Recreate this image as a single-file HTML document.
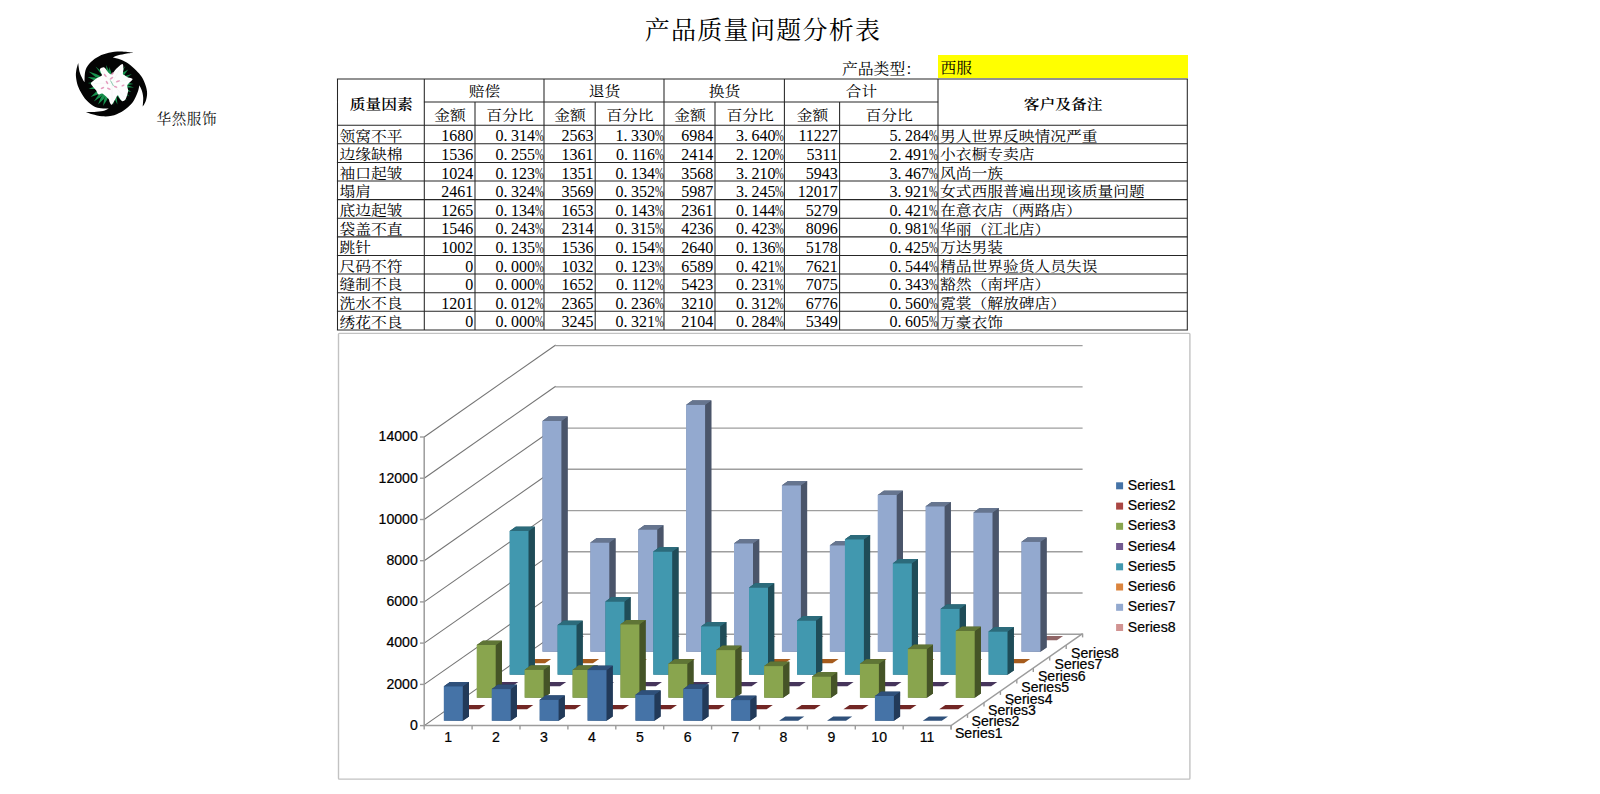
<!DOCTYPE html>
<html lang="zh-CN">
<head>
<meta charset="utf-8">
<title>产品质量问题分析表</title>
<style>
html,body{margin:0;padding:0;background:#fff;}
body{width:1600px;height:794px;position:relative;overflow:hidden;font-family:"Liberation Serif","Noto Serif CJK SC",serif;color:#000;}
.abs{position:absolute;}
.title{left:562.4px;top:10.8px;width:400px;text-align:center;font-size:25px;line-height:40px;font-weight:400;white-space:nowrap;letter-spacing:1.3px;text-indent:1.3px;}
.brand{left:156.6px;top:109.4px;font-size:14.6px;letter-spacing:0.5px;line-height:20px;white-space:nowrap;color:#111;}
.ptype{transform:scaleY(.93);transform-origin:50% 50%;left:790px;top:57.3px;width:131px;text-align:right;font-size:15.8px;line-height:23px;white-space:nowrap;}
.yellow{left:938px;top:55.2px;width:249.5px;height:23.3px;background:#ffff00;font-size:15.8px;line-height:26.4px;}
.yellow span{display:inline-block;transform:scaleY(.93);transform-origin:50% 50%;padding-left:2.5px;}
.c{position:absolute;transform:scaleY(.89);transform-origin:50% 50%;font-size:15.75px;line-height:18.6px;white-space:nowrap;overflow:visible;}
.c.l{text-align:left;}
.c.r{text-align:right;margin-left:0.9px;font-size:16px;transform:scaleY(1.07);}
.c.r.i{margin-left:-0.6px;}
.c.m{text-align:center;}
.c.b{font-weight:600;}
.d{display:inline-block;width:7.6px;text-align:left;}
.p{display:inline-block;width:8.6px;transform:scaleX(.66);transform-origin:0 50%;}
svg text{font-family:"Liberation Sans",sans-serif;}
</style>
</head>
<body>
<svg class="abs" style="left:60px;top:40px" width="120" height="90" viewBox="60 40 120 90">
<path d="M 84.50,82.30 C 84.67,80.28 84.43,73.58 85.50,70.20 C 86.57,66.82 88.63,64.33 90.90,62.00 C 93.17,59.67 96.12,57.73 99.10,56.20 C 102.08,54.67 105.25,53.57 108.80,52.80 C 112.35,52.03 116.28,51.60 120.40,51.60 C 124.52,51.60 131.32,52.60 133.50,52.80 C 131.97,52.98 127.12,53.42 124.30,53.90 C 121.48,54.38 118.53,55.08 116.60,55.70 C 114.67,56.32 113.35,57.28 112.70,57.60 C 113.98,57.92 117.82,58.53 120.40,59.50 C 122.98,60.47 125.60,61.62 128.20,63.40 C 130.80,65.18 133.73,67.93 136.00,70.20 C 138.27,72.47 140.18,74.42 141.80,77.00 C 143.42,79.58 144.82,82.95 145.70,85.70 C 146.58,88.45 147.10,90.90 147.10,93.50 C 147.10,96.10 146.43,99.12 145.70,101.30 C 144.97,103.48 143.20,105.72 142.70,106.60 C 142.78,105.07 143.35,100.07 143.20,97.40 C 143.05,94.73 142.43,92.62 141.80,90.60 C 141.17,88.58 139.80,86.18 139.40,85.30 C 139.15,86.35 138.80,89.10 137.90,91.60 C 137.00,94.10 135.62,97.72 134.00,100.30 C 132.38,102.88 130.30,105.17 128.20,107.10 C 126.10,109.03 124.15,110.45 121.40,111.90 C 118.65,113.35 114.93,115.07 111.70,115.80 C 108.47,116.53 105.23,116.55 102.00,116.30 C 98.77,116.05 94.97,115.03 92.30,114.30 C 89.63,113.57 87.05,112.30 86.00,111.90 C 87.37,111.90 91.37,112.05 94.20,111.90 C 97.03,111.75 100.57,111.57 103.00,111.00 C 105.43,110.43 107.83,108.92 108.80,108.50 C 107.50,108.47 103.43,108.62 101.00,108.30 C 98.57,107.98 96.62,107.93 94.20,106.60 C 91.78,105.27 88.60,102.48 86.50,100.30 C 84.40,98.12 83.05,95.93 81.60,93.50 C 80.15,91.07 78.73,88.45 77.80,85.70 C 76.87,82.95 76.25,79.58 76.00,77.00 C 75.75,74.42 75.93,72.55 76.30,70.20 C 76.67,67.85 77.88,64.12 78.20,62.90 C 78.45,64.45 78.97,69.53 79.70,72.20 C 80.43,74.87 81.80,77.22 82.60,78.90 C 83.40,80.58 84.18,81.73 84.50,82.30 Z" fill="#040404"/>
<g fill="#17924d">
<path d="M 105.5,78.7 L 96.2,74.0 L 88.6,71.5 L 94.9,76.4 L 104.0,81.5 Z"/>
<path d="M 104.9,80.1 L 95.2,77.6 L 87.6,77.0 L 94.4,80.5 L 104.0,83.4 Z"/>
<path d="M 104.6,82.1 L 95.0,81.9 L 87.8,83.0 L 94.9,84.5 L 104.5,85.0 Z"/>
<path d="M 104.4,83.7 L 95.2,86.0 L 88.6,89.0 L 95.9,88.9 L 105.1,87.0 Z"/>
<path d="M 104.4,86.2 L 96.1,91.7 L 90.6,97.0 L 97.8,94.4 L 106.3,89.3 Z"/>
<path d="M 105.2,88.0 L 98.2,95.2 L 93.8,101.5 L 100.2,97.2 L 107.4,90.2 Z"/>
<path d="M 106.1,89.0 L 100.8,97.5 L 98.0,104.6 L 103.5,99.3 L 109.1,91.0 Z"/>
<path d="M 107.6,89.9 L 104.3,98.8 L 103.0,106.0 L 106.9,99.9 L 110.5,91.0 Z"/>
<path d="M 117.7,80.7 L 124.2,74.9 L 128.2,69.5 L 122.3,72.7 L 115.6,78.3 Z"/>
<path d="M 118.3,82.0 L 126.3,78.0 L 131.8,74.0 L 125.2,75.9 L 117.2,79.7 Z"/>
<path d="M 118.2,85.3 L 126.9,85.2 L 133.4,84.0 L 126.9,82.6 L 118.2,82.4 Z"/>
<path d="M 118.2,86.2 L 127.1,87.6 L 134.0,87.5 L 127.5,85.2 L 118.6,83.6 Z"/>
<path d="M 117.0,87.7 L 125.0,90.8 L 131.4,92.0 L 126.0,88.2 L 118.2,84.8 Z"/>
<path d="M 116.2,88.8 L 123.3,93.7 L 129.4,96.4 L 124.8,91.6 L 117.8,86.4 Z"/>
<path d="M 115.3,89.7 L 121.4,96.2 L 126.8,100.4 L 123.1,94.6 L 117.2,87.9 Z"/>
<path d="M 111.1,77.8 L 108.7,70.3 L 106.0,65.0 L 106.7,71.0 L 108.8,78.5 Z"/>
<path d="M 112.2,78.6 L 111.1,71.9 L 109.3,67.0 L 109.0,72.2 L 109.8,78.9 Z"/>
<path d="M 112.1,90.4 L 114.5,98.7 L 117.4,104.6 L 116.8,98.0 L 114.7,89.7 Z"/>
<path d="M 113.5,89.6 L 117.6,96.4 L 121.6,101.0 L 119.7,95.2 L 115.8,88.3 Z"/>
<path d="M 111.3,90.3 L 112.3,98.7 L 114.0,105.0 L 114.3,98.5 L 113.5,90.0 Z"/>
<path d="M 107.5,78.0 L 101.0,71.1 L 95.5,66.5 L 99.7,72.3 L 106.1,79.3 Z"/>
<path d="M 116.6,79.0 L 122.0,71.9 L 125.5,66.0 L 120.7,70.8 L 115.1,77.9 Z"/>
</g>
<path d="M 111.70,74.10 C 112.98,73.33 114.72,70.20 116.50,68.50 C 118.28,66.80 121.25,63.82 122.40,63.90 C 123.55,63.98 123.32,67.30 123.40,69.00 C 123.48,70.70 122.75,73.08 122.90,74.10 C 123.05,75.12 123.45,74.53 124.30,75.10 C 125.15,75.67 126.62,76.87 128.00,77.50 C 129.38,78.13 132.35,78.07 132.60,78.90 C 132.85,79.73 130.40,81.37 129.50,82.50 C 128.60,83.63 127.42,84.35 127.20,85.70 C 126.98,87.05 128.23,88.97 128.20,90.60 C 128.17,92.23 127.48,94.00 127.00,95.50 C 126.52,97.00 126.07,98.63 125.30,99.60 C 124.53,100.57 123.37,101.57 122.40,101.30 C 121.43,101.03 120.32,98.98 119.50,98.00 C 118.68,97.02 118.33,94.98 117.50,95.40 C 116.67,95.82 115.47,98.95 114.50,100.50 C 113.53,102.05 112.52,104.45 111.70,104.70 C 110.88,104.95 110.08,102.90 109.60,102.00 C 109.12,101.10 109.48,100.30 108.80,99.30 C 108.12,98.30 106.63,96.97 105.50,96.00 C 104.37,95.03 103.18,93.75 102.00,93.50 C 100.82,93.25 99.37,94.98 98.40,94.50 C 97.43,94.02 97.07,91.85 96.20,90.60 C 95.33,89.35 94.08,88.22 93.20,87.00 C 92.32,85.78 90.77,84.43 90.90,83.30 C 91.03,82.17 92.95,81.08 94.00,80.20 C 95.05,79.32 96.20,78.57 97.20,78.00 C 98.20,77.43 99.20,77.28 100.00,76.80 C 100.80,76.32 101.90,75.90 102.00,75.10 C 102.10,74.30 100.92,73.05 100.60,72.00 C 100.28,70.95 99.55,69.58 100.10,68.80 C 100.65,68.02 102.82,67.07 103.90,67.30 C 104.98,67.53 105.78,69.23 106.60,70.20 C 107.42,71.17 107.95,72.45 108.80,73.10 C 109.65,73.75 110.42,74.87 111.70,74.10 Z" fill="#fdfdfd"/>
<path d="M 112,83 L 121.5,66 M 112,83 L 130,79.5 M 112,83 L 112,102 M 112,83 L 94,83.5 M 112,83 L 124,97 M 112,83 L 102,71" stroke="#eef2ee" stroke-width="0.45" fill="none"/>
<ellipse transform="translate(105.2 75.5) rotate(50)" rx="2.0" ry="0.85" fill="#e08cb4" fill-opacity="0.85"/>
<ellipse transform="translate(111.5 78.2) rotate(-35)" rx="2.1" ry="0.85" fill="#e08cb4" fill-opacity="0.85"/>
<ellipse transform="translate(118 81.3) rotate(-20)" rx="2.2" ry="0.85" fill="#e08cb4" fill-opacity="0.85"/>
<ellipse transform="translate(107 82.5) rotate(55)" rx="1.9" ry="0.85" fill="#e08cb4" fill-opacity="0.85"/>
<ellipse transform="translate(115.6 86.8) rotate(20)" rx="1.9" ry="0.85" fill="#e08cb4" fill-opacity="0.85"/>
<ellipse transform="translate(123 85.5) rotate(-25)" rx="1.7" ry="0.85" fill="#e08cb4" fill-opacity="0.85"/>
<ellipse transform="translate(102.5 88) rotate(-25)" rx="1.9" ry="0.85" fill="#e08cb4" fill-opacity="0.85"/>
<ellipse transform="translate(108.8 88.8) rotate(25)" rx="2.0" ry="0.85" fill="#e08cb4" fill-opacity="0.85"/>
<ellipse transform="translate(112.5 73.5) rotate(-40)" rx="1.4" ry="0.85" fill="#e08cb4" fill-opacity="0.85"/>
<path d="M 110.5,80.5 L 113.5,86" stroke="#5fb592" stroke-width="0.7" fill="none"/>
</svg>
<div class="abs brand">华然服饰</div>
<div class="abs title">产品质量问题分析表</div>
<div class="abs ptype">产品类型：</div>
<div class="abs yellow"><span>西服</span></div>
<svg class="abs" style="left:330px;top:70px" width="870" height="265" viewBox="330 70 870 265"><path d="M336.9,79H1187.9 M423.7,102H938.6 M336.9,125.2H1187.9 M336.9,143.81H1187.9 M336.9,162.42H1187.9 M336.9,181.03H1187.9 M336.9,199.64H1187.9 M336.9,218.25H1187.9 M336.9,236.85H1187.9 M336.9,255.46H1187.9 M336.9,274.07H1187.9 M336.9,292.68H1187.9 M336.9,311.29H1187.9 M336.9,329.9H1187.9 M337.5,79V329.9 M424.3,79V329.9 M475,102V329.9 M544,79V329.9 M595.2,102V329.9 M664,79V329.9 M715,102V329.9 M784.4,79V329.9 M839.6,102V329.9 M938,79V329.9 M1187.3,79V329.9" fill="none" stroke="#262626" stroke-width="1.05"/></svg>
<div class="abs" style="left:0;top:0;width:0;height:0">
<div class="c m b" style="left:339.5px;top:82.4px;width:83.6px;height:46.2px;line-height:46.2px">质量因素</div>
<div class="c m b" style="left:940px;top:82.4px;width:246.1px;height:46.2px;line-height:46.2px">客户及备注</div>
<div class="c m" style="left:426.3px;top:79.9px;width:116.5px;height:23px;line-height:23px">赔偿</div>
<div class="c m" style="left:426.3px;top:104px;width:47.5px;height:23.2px;line-height:23.2px">金额</div>
<div class="c m" style="left:477px;top:104px;width:65.8px;height:23.2px;line-height:23.2px">百分比</div>
<div class="c m" style="left:546px;top:79.9px;width:116.8px;height:23px;line-height:23px">退货</div>
<div class="c m" style="left:546px;top:104px;width:48px;height:23.2px;line-height:23.2px">金额</div>
<div class="c m" style="left:597.2px;top:104px;width:65.6px;height:23.2px;line-height:23.2px">百分比</div>
<div class="c m" style="left:666px;top:79.9px;width:117.2px;height:23px;line-height:23px">换货</div>
<div class="c m" style="left:666px;top:104px;width:47.8px;height:23.2px;line-height:23.2px">金额</div>
<div class="c m" style="left:717px;top:104px;width:66.2px;height:23.2px;line-height:23.2px">百分比</div>
<div class="c m" style="left:786.4px;top:79.9px;width:150.4px;height:23px;line-height:23px">合计</div>
<div class="c m" style="left:786.4px;top:104px;width:52px;height:23.2px;line-height:23.2px">金额</div>
<div class="c m" style="left:841.6px;top:104px;width:95.2px;height:23.2px;line-height:23.2px">百分比</div>
<div class="c l" style="left:339.5px;top:127.5px;width:83.6px;height:18.61px;line-height:18.61px">领窝不平</div>
<div class="c r i" style="left:426.3px;top:127.4px;width:47.5px;height:18.61px;line-height:18.61px">1680</div>
<div class="c r" style="left:477px;top:127.4px;width:65.8px;height:18.61px;line-height:18.61px">0<span class="d">.</span>314<span class="p">%</span></div>
<div class="c r i" style="left:546px;top:127.4px;width:48px;height:18.61px;line-height:18.61px">2563</div>
<div class="c r" style="left:597.2px;top:127.4px;width:65.6px;height:18.61px;line-height:18.61px">1<span class="d">.</span>330<span class="p">%</span></div>
<div class="c r i" style="left:666px;top:127.4px;width:47.8px;height:18.61px;line-height:18.61px">6984</div>
<div class="c r" style="left:717px;top:127.4px;width:66.2px;height:18.61px;line-height:18.61px">3<span class="d">.</span>640<span class="p">%</span></div>
<div class="c r i" style="left:786.4px;top:127.4px;width:52px;height:18.61px;line-height:18.61px">11227</div>
<div class="c r" style="left:841.6px;top:127.4px;width:95.2px;height:18.61px;line-height:18.61px">5<span class="d">.</span>284<span class="p">%</span></div>
<div class="c l" style="left:940px;top:127.5px;width:246.1px;height:18.61px;line-height:18.61px">男人世界反映情况严重</div>
<div class="c l" style="left:339.5px;top:146.11px;width:83.6px;height:18.61px;line-height:18.61px">边缘缺棉</div>
<div class="c r i" style="left:426.3px;top:146.01px;width:47.5px;height:18.61px;line-height:18.61px">1536</div>
<div class="c r" style="left:477px;top:146.01px;width:65.8px;height:18.61px;line-height:18.61px">0<span class="d">.</span>255<span class="p">%</span></div>
<div class="c r i" style="left:546px;top:146.01px;width:48px;height:18.61px;line-height:18.61px">1361</div>
<div class="c r" style="left:597.2px;top:146.01px;width:65.6px;height:18.61px;line-height:18.61px">0<span class="d">.</span>116<span class="p">%</span></div>
<div class="c r i" style="left:666px;top:146.01px;width:47.8px;height:18.61px;line-height:18.61px">2414</div>
<div class="c r" style="left:717px;top:146.01px;width:66.2px;height:18.61px;line-height:18.61px">2<span class="d">.</span>120<span class="p">%</span></div>
<div class="c r i" style="left:786.4px;top:146.01px;width:52px;height:18.61px;line-height:18.61px">5311</div>
<div class="c r" style="left:841.6px;top:146.01px;width:95.2px;height:18.61px;line-height:18.61px">2<span class="d">.</span>491<span class="p">%</span></div>
<div class="c l" style="left:940px;top:146.11px;width:246.1px;height:18.61px;line-height:18.61px">小衣橱专卖店</div>
<div class="c l" style="left:339.5px;top:164.72px;width:83.6px;height:18.61px;line-height:18.61px">袖口起皱</div>
<div class="c r i" style="left:426.3px;top:164.62px;width:47.5px;height:18.61px;line-height:18.61px">1024</div>
<div class="c r" style="left:477px;top:164.62px;width:65.8px;height:18.61px;line-height:18.61px">0<span class="d">.</span>123<span class="p">%</span></div>
<div class="c r i" style="left:546px;top:164.62px;width:48px;height:18.61px;line-height:18.61px">1351</div>
<div class="c r" style="left:597.2px;top:164.62px;width:65.6px;height:18.61px;line-height:18.61px">0<span class="d">.</span>134<span class="p">%</span></div>
<div class="c r i" style="left:666px;top:164.62px;width:47.8px;height:18.61px;line-height:18.61px">3568</div>
<div class="c r" style="left:717px;top:164.62px;width:66.2px;height:18.61px;line-height:18.61px">3<span class="d">.</span>210<span class="p">%</span></div>
<div class="c r i" style="left:786.4px;top:164.62px;width:52px;height:18.61px;line-height:18.61px">5943</div>
<div class="c r" style="left:841.6px;top:164.62px;width:95.2px;height:18.61px;line-height:18.61px">3<span class="d">.</span>467<span class="p">%</span></div>
<div class="c l" style="left:940px;top:164.72px;width:246.1px;height:18.61px;line-height:18.61px">风尚一族</div>
<div class="c l" style="left:339.5px;top:183.33px;width:83.6px;height:18.61px;line-height:18.61px">塌肩</div>
<div class="c r i" style="left:426.3px;top:183.23px;width:47.5px;height:18.61px;line-height:18.61px">2461</div>
<div class="c r" style="left:477px;top:183.23px;width:65.8px;height:18.61px;line-height:18.61px">0<span class="d">.</span>324<span class="p">%</span></div>
<div class="c r i" style="left:546px;top:183.23px;width:48px;height:18.61px;line-height:18.61px">3569</div>
<div class="c r" style="left:597.2px;top:183.23px;width:65.6px;height:18.61px;line-height:18.61px">0<span class="d">.</span>352<span class="p">%</span></div>
<div class="c r i" style="left:666px;top:183.23px;width:47.8px;height:18.61px;line-height:18.61px">5987</div>
<div class="c r" style="left:717px;top:183.23px;width:66.2px;height:18.61px;line-height:18.61px">3<span class="d">.</span>245<span class="p">%</span></div>
<div class="c r i" style="left:786.4px;top:183.23px;width:52px;height:18.61px;line-height:18.61px">12017</div>
<div class="c r" style="left:841.6px;top:183.23px;width:95.2px;height:18.61px;line-height:18.61px">3<span class="d">.</span>921<span class="p">%</span></div>
<div class="c l" style="left:940px;top:183.33px;width:246.1px;height:18.61px;line-height:18.61px">女式西服普遍出现该质量问题</div>
<div class="c l" style="left:339.5px;top:201.94px;width:83.6px;height:18.61px;line-height:18.61px">底边起皱</div>
<div class="c r i" style="left:426.3px;top:201.84px;width:47.5px;height:18.61px;line-height:18.61px">1265</div>
<div class="c r" style="left:477px;top:201.84px;width:65.8px;height:18.61px;line-height:18.61px">0<span class="d">.</span>134<span class="p">%</span></div>
<div class="c r i" style="left:546px;top:201.84px;width:48px;height:18.61px;line-height:18.61px">1653</div>
<div class="c r" style="left:597.2px;top:201.84px;width:65.6px;height:18.61px;line-height:18.61px">0<span class="d">.</span>143<span class="p">%</span></div>
<div class="c r i" style="left:666px;top:201.84px;width:47.8px;height:18.61px;line-height:18.61px">2361</div>
<div class="c r" style="left:717px;top:201.84px;width:66.2px;height:18.61px;line-height:18.61px">0<span class="d">.</span>144<span class="p">%</span></div>
<div class="c r i" style="left:786.4px;top:201.84px;width:52px;height:18.61px;line-height:18.61px">5279</div>
<div class="c r" style="left:841.6px;top:201.84px;width:95.2px;height:18.61px;line-height:18.61px">0<span class="d">.</span>421<span class="p">%</span></div>
<div class="c l" style="left:940px;top:201.94px;width:246.1px;height:18.61px;line-height:18.61px">在意衣店（两路店）</div>
<div class="c l" style="left:339.5px;top:220.55px;width:83.6px;height:18.61px;line-height:18.61px">袋盖不直</div>
<div class="c r i" style="left:426.3px;top:220.45px;width:47.5px;height:18.61px;line-height:18.61px">1546</div>
<div class="c r" style="left:477px;top:220.45px;width:65.8px;height:18.61px;line-height:18.61px">0<span class="d">.</span>243<span class="p">%</span></div>
<div class="c r i" style="left:546px;top:220.45px;width:48px;height:18.61px;line-height:18.61px">2314</div>
<div class="c r" style="left:597.2px;top:220.45px;width:65.6px;height:18.61px;line-height:18.61px">0<span class="d">.</span>315<span class="p">%</span></div>
<div class="c r i" style="left:666px;top:220.45px;width:47.8px;height:18.61px;line-height:18.61px">4236</div>
<div class="c r" style="left:717px;top:220.45px;width:66.2px;height:18.61px;line-height:18.61px">0<span class="d">.</span>423<span class="p">%</span></div>
<div class="c r i" style="left:786.4px;top:220.45px;width:52px;height:18.61px;line-height:18.61px">8096</div>
<div class="c r" style="left:841.6px;top:220.45px;width:95.2px;height:18.61px;line-height:18.61px">0<span class="d">.</span>981<span class="p">%</span></div>
<div class="c l" style="left:940px;top:220.55px;width:246.1px;height:18.61px;line-height:18.61px">华丽（江北店）</div>
<div class="c l" style="left:339.5px;top:239.15px;width:83.6px;height:18.61px;line-height:18.61px">跳针</div>
<div class="c r i" style="left:426.3px;top:239.05px;width:47.5px;height:18.61px;line-height:18.61px">1002</div>
<div class="c r" style="left:477px;top:239.05px;width:65.8px;height:18.61px;line-height:18.61px">0<span class="d">.</span>135<span class="p">%</span></div>
<div class="c r i" style="left:546px;top:239.05px;width:48px;height:18.61px;line-height:18.61px">1536</div>
<div class="c r" style="left:597.2px;top:239.05px;width:65.6px;height:18.61px;line-height:18.61px">0<span class="d">.</span>154<span class="p">%</span></div>
<div class="c r i" style="left:666px;top:239.05px;width:47.8px;height:18.61px;line-height:18.61px">2640</div>
<div class="c r" style="left:717px;top:239.05px;width:66.2px;height:18.61px;line-height:18.61px">0<span class="d">.</span>136<span class="p">%</span></div>
<div class="c r i" style="left:786.4px;top:239.05px;width:52px;height:18.61px;line-height:18.61px">5178</div>
<div class="c r" style="left:841.6px;top:239.05px;width:95.2px;height:18.61px;line-height:18.61px">0<span class="d">.</span>425<span class="p">%</span></div>
<div class="c l" style="left:940px;top:239.15px;width:246.1px;height:18.61px;line-height:18.61px">万达男装</div>
<div class="c l" style="left:339.5px;top:257.76px;width:83.6px;height:18.61px;line-height:18.61px">尺码不符</div>
<div class="c r i" style="left:426.3px;top:257.66px;width:47.5px;height:18.61px;line-height:18.61px">0</div>
<div class="c r" style="left:477px;top:257.66px;width:65.8px;height:18.61px;line-height:18.61px">0<span class="d">.</span>000<span class="p">%</span></div>
<div class="c r i" style="left:546px;top:257.66px;width:48px;height:18.61px;line-height:18.61px">1032</div>
<div class="c r" style="left:597.2px;top:257.66px;width:65.6px;height:18.61px;line-height:18.61px">0<span class="d">.</span>123<span class="p">%</span></div>
<div class="c r i" style="left:666px;top:257.66px;width:47.8px;height:18.61px;line-height:18.61px">6589</div>
<div class="c r" style="left:717px;top:257.66px;width:66.2px;height:18.61px;line-height:18.61px">0<span class="d">.</span>421<span class="p">%</span></div>
<div class="c r i" style="left:786.4px;top:257.66px;width:52px;height:18.61px;line-height:18.61px">7621</div>
<div class="c r" style="left:841.6px;top:257.66px;width:95.2px;height:18.61px;line-height:18.61px">0<span class="d">.</span>544<span class="p">%</span></div>
<div class="c l" style="left:940px;top:257.76px;width:246.1px;height:18.61px;line-height:18.61px">精品世界验货人员失误</div>
<div class="c l" style="left:339.5px;top:276.37px;width:83.6px;height:18.61px;line-height:18.61px">缝制不良</div>
<div class="c r i" style="left:426.3px;top:276.27px;width:47.5px;height:18.61px;line-height:18.61px">0</div>
<div class="c r" style="left:477px;top:276.27px;width:65.8px;height:18.61px;line-height:18.61px">0<span class="d">.</span>000<span class="p">%</span></div>
<div class="c r i" style="left:546px;top:276.27px;width:48px;height:18.61px;line-height:18.61px">1652</div>
<div class="c r" style="left:597.2px;top:276.27px;width:65.6px;height:18.61px;line-height:18.61px">0<span class="d">.</span>112<span class="p">%</span></div>
<div class="c r i" style="left:666px;top:276.27px;width:47.8px;height:18.61px;line-height:18.61px">5423</div>
<div class="c r" style="left:717px;top:276.27px;width:66.2px;height:18.61px;line-height:18.61px">0<span class="d">.</span>231<span class="p">%</span></div>
<div class="c r i" style="left:786.4px;top:276.27px;width:52px;height:18.61px;line-height:18.61px">7075</div>
<div class="c r" style="left:841.6px;top:276.27px;width:95.2px;height:18.61px;line-height:18.61px">0<span class="d">.</span>343<span class="p">%</span></div>
<div class="c l" style="left:940px;top:276.37px;width:246.1px;height:18.61px;line-height:18.61px">豁然（南坪店）</div>
<div class="c l" style="left:339.5px;top:294.98px;width:83.6px;height:18.61px;line-height:18.61px">洗水不良</div>
<div class="c r i" style="left:426.3px;top:294.88px;width:47.5px;height:18.61px;line-height:18.61px">1201</div>
<div class="c r" style="left:477px;top:294.88px;width:65.8px;height:18.61px;line-height:18.61px">0<span class="d">.</span>012<span class="p">%</span></div>
<div class="c r i" style="left:546px;top:294.88px;width:48px;height:18.61px;line-height:18.61px">2365</div>
<div class="c r" style="left:597.2px;top:294.88px;width:65.6px;height:18.61px;line-height:18.61px">0<span class="d">.</span>236<span class="p">%</span></div>
<div class="c r i" style="left:666px;top:294.88px;width:47.8px;height:18.61px;line-height:18.61px">3210</div>
<div class="c r" style="left:717px;top:294.88px;width:66.2px;height:18.61px;line-height:18.61px">0<span class="d">.</span>312<span class="p">%</span></div>
<div class="c r i" style="left:786.4px;top:294.88px;width:52px;height:18.61px;line-height:18.61px">6776</div>
<div class="c r" style="left:841.6px;top:294.88px;width:95.2px;height:18.61px;line-height:18.61px">0<span class="d">.</span>560<span class="p">%</span></div>
<div class="c l" style="left:940px;top:294.98px;width:246.1px;height:18.61px;line-height:18.61px">霓裳（解放碑店）</div>
<div class="c l" style="left:339.5px;top:313.59px;width:83.6px;height:18.61px;line-height:18.61px">绣花不良</div>
<div class="c r i" style="left:426.3px;top:313.49px;width:47.5px;height:18.61px;line-height:18.61px">0</div>
<div class="c r" style="left:477px;top:313.49px;width:65.8px;height:18.61px;line-height:18.61px">0<span class="d">.</span>000<span class="p">%</span></div>
<div class="c r i" style="left:546px;top:313.49px;width:48px;height:18.61px;line-height:18.61px">3245</div>
<div class="c r" style="left:597.2px;top:313.49px;width:65.6px;height:18.61px;line-height:18.61px">0<span class="d">.</span>321<span class="p">%</span></div>
<div class="c r i" style="left:666px;top:313.49px;width:47.8px;height:18.61px;line-height:18.61px">2104</div>
<div class="c r" style="left:717px;top:313.49px;width:66.2px;height:18.61px;line-height:18.61px">0<span class="d">.</span>284<span class="p">%</span></div>
<div class="c r i" style="left:786.4px;top:313.49px;width:52px;height:18.61px;line-height:18.61px">5349</div>
<div class="c r" style="left:841.6px;top:313.49px;width:95.2px;height:18.61px;line-height:18.61px">0<span class="d">.</span>605<span class="p">%</span></div>
<div class="c l" style="left:940px;top:313.59px;width:246.1px;height:18.61px;line-height:18.61px">万豪衣饰</div>
</div>
<svg class="abs" style="left:334px;top:330px" width="862" height="456" viewBox="334 330 862 456">
<rect x="338.5" y="333.4" width="851.4" height="445.7" rx="0.8" fill="#fff" stroke="#c2c2c2" stroke-width="1.4"/>
<g><path d="M 424.2,725.6 L 555.7,633.6" fill="none" stroke="#747474" stroke-width="1.05"/>
<path d="M 555.3,634.2 L 1082.6,634.2" fill="none" stroke="#9e9e9e" stroke-width="1.4"/>
<path d="M 424.2,684.4 L 555.7,592.4" fill="none" stroke="#747474" stroke-width="1.05"/>
<path d="M 555.3,593.0 L 1082.6,593.0" fill="none" stroke="#9e9e9e" stroke-width="1.4"/>
<path d="M 424.2,643.1 L 555.7,551.1" fill="none" stroke="#747474" stroke-width="1.05"/>
<path d="M 555.3,551.8 L 1082.6,551.8" fill="none" stroke="#9e9e9e" stroke-width="1.4"/>
<path d="M 424.2,601.9 L 555.7,509.9" fill="none" stroke="#747474" stroke-width="1.05"/>
<path d="M 555.3,510.6 L 1082.6,510.6" fill="none" stroke="#9e9e9e" stroke-width="1.4"/>
<path d="M 424.2,560.7 L 555.7,468.7" fill="none" stroke="#747474" stroke-width="1.05"/>
<path d="M 555.3,469.3 L 1082.6,469.3" fill="none" stroke="#9e9e9e" stroke-width="1.4"/>
<path d="M 424.2,519.5 L 555.7,427.5" fill="none" stroke="#747474" stroke-width="1.05"/>
<path d="M 555.3,428.1 L 1082.6,428.1" fill="none" stroke="#9e9e9e" stroke-width="1.4"/>
<path d="M 424.2,478.2 L 555.7,386.2" fill="none" stroke="#747474" stroke-width="1.05"/>
<path d="M 555.3,386.9 L 1082.6,386.9" fill="none" stroke="#9e9e9e" stroke-width="1.4"/>
<path d="M 424.2,437.0 L 555.7,345.0" fill="none" stroke="#747474" stroke-width="1.05"/>
<path d="M 555.3,345.6 L 1082.6,345.6" fill="none" stroke="#9e9e9e" stroke-width="1.4"/>
<path d="M 424.2,437.0 L 424.2,725.6 L 951.1,725.6 L 1082.6,633.6" fill="none" stroke="#9c9c9c" stroke-width="1.5"/>
<path d="M 420.0,725.6 L 424.2,725.6" stroke="#9c9c9c" stroke-width="1.4"/>
<path d="M 420.0,684.4 L 424.2,684.4" stroke="#9c9c9c" stroke-width="1.4"/>
<path d="M 420.0,643.1 L 424.2,643.1" stroke="#9c9c9c" stroke-width="1.4"/>
<path d="M 420.0,601.9 L 424.2,601.9" stroke="#9c9c9c" stroke-width="1.4"/>
<path d="M 420.0,560.7 L 424.2,560.7" stroke="#9c9c9c" stroke-width="1.4"/>
<path d="M 420.0,519.5 L 424.2,519.5" stroke="#9c9c9c" stroke-width="1.4"/>
<path d="M 420.0,478.2 L 424.2,478.2" stroke="#9c9c9c" stroke-width="1.4"/>
<path d="M 420.0,437.0 L 424.2,437.0" stroke="#9c9c9c" stroke-width="1.4"/>
<path d="M 424.2,725.6 L 424.2,729.6" stroke="#9c9c9c" stroke-width="1.4"/>
<path d="M 472.1,725.6 L 472.1,729.6" stroke="#9c9c9c" stroke-width="1.4"/>
<path d="M 520.0,725.6 L 520.0,729.6" stroke="#9c9c9c" stroke-width="1.4"/>
<path d="M 567.9,725.6 L 567.9,729.6" stroke="#9c9c9c" stroke-width="1.4"/>
<path d="M 615.8,725.6 L 615.8,729.6" stroke="#9c9c9c" stroke-width="1.4"/>
<path d="M 663.7,725.6 L 663.7,729.6" stroke="#9c9c9c" stroke-width="1.4"/>
<path d="M 711.6,725.6 L 711.6,729.6" stroke="#9c9c9c" stroke-width="1.4"/>
<path d="M 759.5,725.6 L 759.5,729.6" stroke="#9c9c9c" stroke-width="1.4"/>
<path d="M 807.4,725.6 L 807.4,729.6" stroke="#9c9c9c" stroke-width="1.4"/>
<path d="M 855.3,725.6 L 855.3,729.6" stroke="#9c9c9c" stroke-width="1.4"/>
<path d="M 903.2,725.6 L 903.2,729.6" stroke="#9c9c9c" stroke-width="1.4"/>
<path d="M 951.1,725.6 L 951.1,729.6" stroke="#9c9c9c" stroke-width="1.4"/>
<path d="M 951.1,725.6 L 951.1,729.4" stroke="#9c9c9c" stroke-width="1.4"/>
<path d="M 967.5,714.1 L 967.5,717.9" stroke="#9c9c9c" stroke-width="1.4"/>
<path d="M 984.0,702.6 L 984.0,706.4" stroke="#9c9c9c" stroke-width="1.4"/>
<path d="M 1000.4,691.1 L 1000.4,694.9" stroke="#9c9c9c" stroke-width="1.4"/>
<path d="M 1016.8,679.6 L 1016.8,683.4" stroke="#9c9c9c" stroke-width="1.4"/>
<path d="M 1033.3,668.1 L 1033.3,671.9" stroke="#9c9c9c" stroke-width="1.4"/>
<path d="M 1049.7,656.6 L 1049.7,660.4" stroke="#9c9c9c" stroke-width="1.4"/>
<path d="M 1066.2,645.1 L 1066.2,648.9" stroke="#9c9c9c" stroke-width="1.4"/>
<path d="M 1082.6,633.6 L 1082.6,637.4" stroke="#9c9c9c" stroke-width="1.4"/></g>
<g><path d="M 558.9,640.2 L 577.9,640.2 L 584.1,635.9 L 565.1,635.9 Z" fill="#8f6465"/>
<path d="M 606.8,640.2 L 625.8,640.2 L 632.0,635.9 L 613.0,635.9 Z" fill="#8f6465"/>
<path d="M 654.7,640.2 L 673.7,640.2 L 679.9,635.9 L 660.9,635.9 Z" fill="#8f6465"/>
<path d="M 702.6,640.2 L 721.6,640.2 L 727.8,635.9 L 708.8,635.9 Z" fill="#8f6465"/>
<path d="M 750.5,640.2 L 769.5,640.2 L 775.7,635.9 L 756.7,635.9 Z" fill="#8f6465"/>
<path d="M 798.4,640.2 L 817.4,640.2 L 823.6,635.9 L 804.6,635.9 Z" fill="#8f6465"/>
<path d="M 846.3,640.2 L 865.3,640.2 L 871.5,635.9 L 852.5,635.9 Z" fill="#8f6465"/>
<path d="M 894.2,640.2 L 913.2,640.2 L 919.4,635.9 L 900.4,635.9 Z" fill="#8f6465"/>
<path d="M 942.1,640.2 L 961.1,640.2 L 967.3,635.9 L 948.3,635.9 Z" fill="#8f6465"/>
<path d="M 990.0,640.2 L 1009.0,640.2 L 1015.2,635.9 L 996.2,635.9 Z" fill="#8f6465"/>
<path d="M 1037.9,640.2 L 1056.9,640.2 L 1063.1,635.9 L 1044.1,635.9 Z" fill="#8f6465"/>
<path d="M 542.7,651.4 L 561.4,651.7 L 567.6,647.4 L 567.6,416.6 L 548.6,416.6 L 542.7,420.9 Z" fill="#4a556a"/>
<path d="M 542.4,421.4 L 561.9,421.4 L 567.6,416.6 L 548.6,416.6 Z" fill="#66758f"/>
<path d="M 561.4,651.7 L 567.6,647.4 L 567.6,416.6 L 561.4,420.9 Z" fill="#4a556a"/>
<path d="M 542.4,651.7 L 561.4,651.7 L 561.4,420.9 L 542.4,420.9 Z" fill="#93a9cf"/>
<path d="M 542.4,420.9 L 561.4,420.9 L 567.6,416.6 L 548.6,416.6 Z" fill="#66758f"/>
<path d="M 590.6,651.4 L 609.3,651.7 L 615.5,647.4 L 615.5,538.2 L 596.5,538.2 L 590.6,542.5 Z" fill="#4a556a"/>
<path d="M 590.3,543.0 L 609.8,543.0 L 615.5,538.2 L 596.5,538.2 Z" fill="#66758f"/>
<path d="M 609.3,651.7 L 615.5,647.4 L 615.5,538.2 L 609.3,542.5 Z" fill="#4a556a"/>
<path d="M 590.3,651.7 L 609.3,651.7 L 609.3,542.5 L 590.3,542.5 Z" fill="#93a9cf"/>
<path d="M 590.3,542.5 L 609.3,542.5 L 615.5,538.2 L 596.5,538.2 Z" fill="#66758f"/>
<path d="M 638.5,651.4 L 657.2,651.7 L 663.4,647.4 L 663.4,525.2 L 644.4,525.2 L 638.5,529.5 Z" fill="#4a556a"/>
<path d="M 638.2,530.0 L 657.7,530.0 L 663.4,525.2 L 644.4,525.2 Z" fill="#66758f"/>
<path d="M 657.2,651.7 L 663.4,647.4 L 663.4,525.2 L 657.2,529.5 Z" fill="#4a556a"/>
<path d="M 638.2,651.7 L 657.2,651.7 L 657.2,529.5 L 638.2,529.5 Z" fill="#93a9cf"/>
<path d="M 638.2,529.5 L 657.2,529.5 L 663.4,525.2 L 644.4,525.2 Z" fill="#66758f"/>
<path d="M 686.4,651.4 L 705.1,651.7 L 711.3,647.4 L 711.3,400.4 L 692.3,400.4 L 686.4,404.7 Z" fill="#4a556a"/>
<path d="M 686.1,405.2 L 705.6,405.2 L 711.3,400.4 L 692.3,400.4 Z" fill="#66758f"/>
<path d="M 705.1,651.7 L 711.3,647.4 L 711.3,400.4 L 705.1,404.7 Z" fill="#4a556a"/>
<path d="M 686.1,651.7 L 705.1,651.7 L 705.1,404.7 L 686.1,404.7 Z" fill="#93a9cf"/>
<path d="M 686.1,404.7 L 705.1,404.7 L 711.3,400.4 L 692.3,400.4 Z" fill="#66758f"/>
<path d="M 734.3,651.4 L 753.0,651.7 L 759.2,647.4 L 759.2,538.9 L 740.2,538.9 L 734.3,543.2 Z" fill="#4a556a"/>
<path d="M 734.0,543.7 L 753.5,543.7 L 759.2,538.9 L 740.2,538.9 Z" fill="#66758f"/>
<path d="M 753.0,651.7 L 759.2,647.4 L 759.2,538.9 L 753.0,543.2 Z" fill="#4a556a"/>
<path d="M 734.0,651.7 L 753.0,651.7 L 753.0,543.2 L 734.0,543.2 Z" fill="#93a9cf"/>
<path d="M 734.0,543.2 L 753.0,543.2 L 759.2,538.9 L 740.2,538.9 Z" fill="#66758f"/>
<path d="M 782.2,651.4 L 800.9,651.7 L 807.1,647.4 L 807.1,481.0 L 788.1,481.0 L 782.2,485.3 Z" fill="#4a556a"/>
<path d="M 781.9,485.8 L 801.4,485.8 L 807.1,481.0 L 788.1,481.0 Z" fill="#66758f"/>
<path d="M 800.9,651.7 L 807.1,647.4 L 807.1,481.0 L 800.9,485.3 Z" fill="#4a556a"/>
<path d="M 781.9,651.7 L 800.9,651.7 L 800.9,485.3 L 781.9,485.3 Z" fill="#93a9cf"/>
<path d="M 781.9,485.3 L 800.9,485.3 L 807.1,481.0 L 788.1,481.0 Z" fill="#66758f"/>
<path d="M 830.1,651.4 L 848.8,651.7 L 855.0,647.4 L 855.0,541.0 L 836.0,541.0 L 830.1,545.3 Z" fill="#4a556a"/>
<path d="M 829.8,545.8 L 849.3,545.8 L 855.0,541.0 L 836.0,541.0 Z" fill="#66758f"/>
<path d="M 848.8,651.7 L 855.0,647.4 L 855.0,541.0 L 848.8,545.3 Z" fill="#4a556a"/>
<path d="M 829.8,651.7 L 848.8,651.7 L 848.8,545.3 L 829.8,545.3 Z" fill="#93a9cf"/>
<path d="M 829.8,545.3 L 848.8,545.3 L 855.0,541.0 L 836.0,541.0 Z" fill="#66758f"/>
<path d="M 878.0,651.4 L 896.7,651.7 L 902.9,647.4 L 902.9,490.7 L 883.9,490.7 L 878.0,495.0 Z" fill="#4a556a"/>
<path d="M 877.7,495.5 L 897.2,495.5 L 902.9,490.7 L 883.9,490.7 Z" fill="#66758f"/>
<path d="M 896.7,651.7 L 902.9,647.4 L 902.9,490.7 L 896.7,495.0 Z" fill="#4a556a"/>
<path d="M 877.7,651.7 L 896.7,651.7 L 896.7,495.0 L 877.7,495.0 Z" fill="#93a9cf"/>
<path d="M 877.7,495.0 L 896.7,495.0 L 902.9,490.7 L 883.9,490.7 Z" fill="#66758f"/>
<path d="M 925.9,651.4 L 944.6,651.7 L 950.8,647.4 L 950.8,502.0 L 931.8,502.0 L 925.9,506.3 Z" fill="#4a556a"/>
<path d="M 925.6,506.8 L 945.1,506.8 L 950.8,502.0 L 931.8,502.0 Z" fill="#66758f"/>
<path d="M 944.6,651.7 L 950.8,647.4 L 950.8,502.0 L 944.6,506.3 Z" fill="#4a556a"/>
<path d="M 925.6,651.7 L 944.6,651.7 L 944.6,506.3 L 925.6,506.3 Z" fill="#93a9cf"/>
<path d="M 925.6,506.3 L 944.6,506.3 L 950.8,502.0 L 931.8,502.0 Z" fill="#66758f"/>
<path d="M 973.8,651.4 L 992.5,651.7 L 998.7,647.4 L 998.7,508.1 L 979.7,508.1 L 973.8,512.4 Z" fill="#4a556a"/>
<path d="M 973.5,512.9 L 993.0,512.9 L 998.7,508.1 L 979.7,508.1 Z" fill="#66758f"/>
<path d="M 992.5,651.7 L 998.7,647.4 L 998.7,508.1 L 992.5,512.4 Z" fill="#4a556a"/>
<path d="M 973.5,651.7 L 992.5,651.7 L 992.5,512.4 L 973.5,512.4 Z" fill="#93a9cf"/>
<path d="M 973.5,512.4 L 992.5,512.4 L 998.7,508.1 L 979.7,508.1 Z" fill="#66758f"/>
<path d="M 1021.7,651.4 L 1040.4,651.7 L 1046.6,647.4 L 1046.6,537.4 L 1027.6,537.4 L 1021.7,541.7 Z" fill="#4a556a"/>
<path d="M 1021.4,542.2 L 1040.9,542.2 L 1046.6,537.4 L 1027.6,537.4 Z" fill="#66758f"/>
<path d="M 1040.4,651.7 L 1046.6,647.4 L 1046.6,537.4 L 1040.4,541.7 Z" fill="#4a556a"/>
<path d="M 1021.4,651.7 L 1040.4,651.7 L 1040.4,541.7 L 1021.4,541.7 Z" fill="#93a9cf"/>
<path d="M 1021.4,541.7 L 1040.4,541.7 L 1046.6,537.4 L 1027.6,537.4 Z" fill="#66758f"/>
<path d="M 526.0,663.2 L 545.0,663.2 L 551.2,658.9 L 532.2,658.9 Z" fill="#a65c1d"/>
<path d="M 573.9,663.2 L 592.9,663.2 L 599.1,658.9 L 580.1,658.9 Z" fill="#a65c1d"/>
<path d="M 621.8,663.2 L 640.8,663.2 L 647.0,658.9 L 628.0,658.9 Z" fill="#a65c1d"/>
<path d="M 669.7,663.2 L 688.7,663.2 L 694.9,658.9 L 675.9,658.9 Z" fill="#a65c1d"/>
<path d="M 717.6,663.2 L 736.6,663.2 L 742.8,658.9 L 723.8,658.9 Z" fill="#a65c1d"/>
<path d="M 765.5,663.2 L 784.5,663.2 L 790.7,658.9 L 771.7,658.9 Z" fill="#a65c1d"/>
<path d="M 813.4,663.2 L 832.4,663.2 L 838.6,658.9 L 819.6,658.9 Z" fill="#a65c1d"/>
<path d="M 861.3,663.2 L 880.3,663.2 L 886.5,658.9 L 867.5,658.9 Z" fill="#a65c1d"/>
<path d="M 909.2,663.2 L 928.2,663.2 L 934.4,658.9 L 915.4,658.9 Z" fill="#a65c1d"/>
<path d="M 957.1,663.2 L 976.1,663.2 L 982.3,658.9 L 963.3,658.9 Z" fill="#a65c1d"/>
<path d="M 1005.0,663.2 L 1024.0,663.2 L 1030.2,658.9 L 1011.2,658.9 Z" fill="#a65c1d"/>
<path d="M 509.9,674.4 L 528.5,674.7 L 534.8,670.4 L 534.8,526.8 L 515.8,526.8 L 509.9,531.1 Z" fill="#1f4c58"/>
<path d="M 509.6,531.6 L 529.0,531.6 L 534.8,526.8 L 515.8,526.8 Z" fill="#2c6b7b"/>
<path d="M 528.5,674.7 L 534.8,670.4 L 534.8,526.8 L 528.5,531.1 Z" fill="#1f4c58"/>
<path d="M 509.6,674.7 L 528.5,674.7 L 528.5,531.1 L 509.6,531.1 Z" fill="#4198af"/>
<path d="M 509.6,531.1 L 528.5,531.1 L 534.8,526.8 L 515.8,526.8 Z" fill="#2c6b7b"/>
<path d="M 557.8,674.4 L 576.5,674.7 L 582.7,670.4 L 582.7,620.8 L 563.7,620.8 L 557.8,625.1 Z" fill="#1f4c58"/>
<path d="M 557.5,625.6 L 577.0,625.6 L 582.7,620.8 L 563.7,620.8 Z" fill="#2c6b7b"/>
<path d="M 576.5,674.7 L 582.7,670.4 L 582.7,620.8 L 576.5,625.1 Z" fill="#1f4c58"/>
<path d="M 557.5,674.7 L 576.5,674.7 L 576.5,625.1 L 557.5,625.1 Z" fill="#4198af"/>
<path d="M 557.5,625.1 L 576.5,625.1 L 582.7,620.8 L 563.7,620.8 Z" fill="#2c6b7b"/>
<path d="M 605.6,674.4 L 624.4,674.7 L 630.6,670.4 L 630.6,597.1 L 611.6,597.1 L 605.6,601.4 Z" fill="#1f4c58"/>
<path d="M 605.4,601.9 L 624.9,601.9 L 630.6,597.1 L 611.6,597.1 Z" fill="#2c6b7b"/>
<path d="M 624.4,674.7 L 630.6,670.4 L 630.6,597.1 L 624.4,601.4 Z" fill="#1f4c58"/>
<path d="M 605.4,674.7 L 624.4,674.7 L 624.4,601.4 L 605.4,601.4 Z" fill="#4198af"/>
<path d="M 605.4,601.4 L 624.4,601.4 L 630.6,597.1 L 611.6,597.1 Z" fill="#2c6b7b"/>
<path d="M 653.5,674.4 L 672.2,674.7 L 678.5,670.4 L 678.5,547.3 L 659.5,547.3 L 653.5,551.6 Z" fill="#1f4c58"/>
<path d="M 653.2,552.1 L 672.8,552.1 L 678.5,547.3 L 659.5,547.3 Z" fill="#2c6b7b"/>
<path d="M 672.2,674.7 L 678.5,670.4 L 678.5,547.3 L 672.2,551.6 Z" fill="#1f4c58"/>
<path d="M 653.2,674.7 L 672.2,674.7 L 672.2,551.6 L 653.2,551.6 Z" fill="#4198af"/>
<path d="M 653.2,551.6 L 672.2,551.6 L 678.5,547.3 L 659.5,547.3 Z" fill="#2c6b7b"/>
<path d="M 701.4,674.4 L 720.1,674.7 L 726.4,670.4 L 726.4,621.9 L 707.4,621.9 L 701.4,626.2 Z" fill="#1f4c58"/>
<path d="M 701.1,626.7 L 720.6,626.7 L 726.4,621.9 L 707.4,621.9 Z" fill="#2c6b7b"/>
<path d="M 720.1,674.7 L 726.4,670.4 L 726.4,621.9 L 720.1,626.2 Z" fill="#1f4c58"/>
<path d="M 701.1,674.7 L 720.1,674.7 L 720.1,626.2 L 701.1,626.2 Z" fill="#4198af"/>
<path d="M 701.1,626.2 L 720.1,626.2 L 726.4,621.9 L 707.4,621.9 Z" fill="#2c6b7b"/>
<path d="M 749.3,674.4 L 768.0,674.7 L 774.2,670.4 L 774.2,583.3 L 755.2,583.3 L 749.3,587.6 Z" fill="#1f4c58"/>
<path d="M 749.0,588.1 L 768.5,588.1 L 774.2,583.3 L 755.2,583.3 Z" fill="#2c6b7b"/>
<path d="M 768.0,674.7 L 774.2,670.4 L 774.2,583.3 L 768.0,587.6 Z" fill="#1f4c58"/>
<path d="M 749.0,674.7 L 768.0,674.7 L 768.0,587.6 L 749.0,587.6 Z" fill="#4198af"/>
<path d="M 749.0,587.6 L 768.0,587.6 L 774.2,583.3 L 755.2,583.3 Z" fill="#2c6b7b"/>
<path d="M 797.2,674.4 L 816.0,674.7 L 822.2,670.4 L 822.2,616.1 L 803.2,616.1 L 797.2,620.4 Z" fill="#1f4c58"/>
<path d="M 797.0,620.9 L 816.5,620.9 L 822.2,616.1 L 803.2,616.1 Z" fill="#2c6b7b"/>
<path d="M 816.0,674.7 L 822.2,670.4 L 822.2,616.1 L 816.0,620.4 Z" fill="#1f4c58"/>
<path d="M 797.0,674.7 L 816.0,674.7 L 816.0,620.4 L 797.0,620.4 Z" fill="#4198af"/>
<path d="M 797.0,620.4 L 816.0,620.4 L 822.2,616.1 L 803.2,616.1 Z" fill="#2c6b7b"/>
<path d="M 845.1,674.4 L 863.9,674.7 L 870.1,670.4 L 870.1,535.0 L 851.1,535.0 L 845.1,539.3 Z" fill="#1f4c58"/>
<path d="M 844.9,539.8 L 864.4,539.8 L 870.1,535.0 L 851.1,535.0 Z" fill="#2c6b7b"/>
<path d="M 863.9,674.7 L 870.1,670.4 L 870.1,535.0 L 863.9,539.3 Z" fill="#1f4c58"/>
<path d="M 844.9,674.7 L 863.9,674.7 L 863.9,539.3 L 844.9,539.3 Z" fill="#4198af"/>
<path d="M 844.9,539.3 L 863.9,539.3 L 870.1,535.0 L 851.1,535.0 Z" fill="#2c6b7b"/>
<path d="M 893.0,674.4 L 911.8,674.7 L 918.0,670.4 L 918.0,558.9 L 899.0,558.9 L 893.0,563.2 Z" fill="#1f4c58"/>
<path d="M 892.8,563.7 L 912.2,563.7 L 918.0,558.9 L 899.0,558.9 Z" fill="#2c6b7b"/>
<path d="M 911.8,674.7 L 918.0,670.4 L 918.0,558.9 L 911.8,563.2 Z" fill="#1f4c58"/>
<path d="M 892.8,674.7 L 911.8,674.7 L 911.8,563.2 L 892.8,563.2 Z" fill="#4198af"/>
<path d="M 892.8,563.2 L 911.8,563.2 L 918.0,558.9 L 899.0,558.9 Z" fill="#2c6b7b"/>
<path d="M 940.9,674.4 L 959.6,674.7 L 965.9,670.4 L 965.9,604.4 L 946.9,604.4 L 940.9,608.7 Z" fill="#1f4c58"/>
<path d="M 940.6,609.2 L 960.1,609.2 L 965.9,604.4 L 946.9,604.4 Z" fill="#2c6b7b"/>
<path d="M 959.6,674.7 L 965.9,670.4 L 965.9,604.4 L 959.6,608.7 Z" fill="#1f4c58"/>
<path d="M 940.6,674.7 L 959.6,674.7 L 959.6,608.7 L 940.6,608.7 Z" fill="#4198af"/>
<path d="M 940.6,608.7 L 959.6,608.7 L 965.9,604.4 L 946.9,604.4 Z" fill="#2c6b7b"/>
<path d="M 988.8,674.4 L 1007.5,674.7 L 1013.8,670.4 L 1013.8,627.1 L 994.8,627.1 L 988.8,631.4 Z" fill="#1f4c58"/>
<path d="M 988.5,631.9 L 1008.0,631.9 L 1013.8,627.1 L 994.8,627.1 Z" fill="#2c6b7b"/>
<path d="M 1007.5,674.7 L 1013.8,670.4 L 1013.8,627.1 L 1007.5,631.4 Z" fill="#1f4c58"/>
<path d="M 988.5,674.7 L 1007.5,674.7 L 1007.5,631.4 L 988.5,631.4 Z" fill="#4198af"/>
<path d="M 988.5,631.4 L 1007.5,631.4 L 1013.8,627.1 L 994.8,627.1 Z" fill="#2c6b7b"/>
<path d="M 493.1,686.2 L 512.1,686.2 L 518.3,681.9 L 499.3,681.9 Z" fill="#46355b"/>
<path d="M 541.0,686.2 L 560.0,686.2 L 566.2,681.9 L 547.2,681.9 Z" fill="#46355b"/>
<path d="M 588.9,686.2 L 607.9,686.2 L 614.1,681.9 L 595.1,681.9 Z" fill="#46355b"/>
<path d="M 636.8,686.2 L 655.8,686.2 L 662.0,681.9 L 643.0,681.9 Z" fill="#46355b"/>
<path d="M 684.7,686.2 L 703.7,686.2 L 709.9,681.9 L 690.9,681.9 Z" fill="#46355b"/>
<path d="M 732.6,686.2 L 751.6,686.2 L 757.8,681.9 L 738.8,681.9 Z" fill="#46355b"/>
<path d="M 780.5,686.2 L 799.5,686.2 L 805.7,681.9 L 786.7,681.9 Z" fill="#46355b"/>
<path d="M 828.4,686.2 L 847.4,686.2 L 853.6,681.9 L 834.6,681.9 Z" fill="#46355b"/>
<path d="M 876.3,686.2 L 895.3,686.2 L 901.5,681.9 L 882.5,681.9 Z" fill="#46355b"/>
<path d="M 924.2,686.2 L 943.2,686.2 L 949.4,681.9 L 930.4,681.9 Z" fill="#46355b"/>
<path d="M 972.1,686.2 L 991.1,686.2 L 997.3,681.9 L 978.3,681.9 Z" fill="#46355b"/>
<path d="M 477.0,697.4 L 495.7,697.7 L 501.9,693.4 L 501.9,640.7 L 482.9,640.7 L 477.0,645.0 Z" fill="#455427"/>
<path d="M 476.7,645.5 L 496.2,645.5 L 501.9,640.7 L 482.9,640.7 Z" fill="#5f7536"/>
<path d="M 495.7,697.7 L 501.9,693.4 L 501.9,640.7 L 495.7,645.0 Z" fill="#455427"/>
<path d="M 476.7,697.7 L 495.7,697.7 L 495.7,645.0 L 476.7,645.0 Z" fill="#89a54e"/>
<path d="M 476.7,645.0 L 495.7,645.0 L 501.9,640.7 L 482.9,640.7 Z" fill="#5f7536"/>
<path d="M 524.9,697.4 L 543.6,697.7 L 549.8,693.4 L 549.8,665.4 L 530.8,665.4 L 524.9,669.7 Z" fill="#455427"/>
<path d="M 524.6,670.2 L 544.1,670.2 L 549.8,665.4 L 530.8,665.4 Z" fill="#5f7536"/>
<path d="M 543.6,697.7 L 549.8,693.4 L 549.8,665.4 L 543.6,669.7 Z" fill="#455427"/>
<path d="M 524.6,697.7 L 543.6,697.7 L 543.6,669.7 L 524.6,669.7 Z" fill="#89a54e"/>
<path d="M 524.6,669.7 L 543.6,669.7 L 549.8,665.4 L 530.8,665.4 Z" fill="#5f7536"/>
<path d="M 572.8,697.4 L 591.5,697.7 L 597.7,693.4 L 597.7,665.6 L 578.7,665.6 L 572.8,669.9 Z" fill="#455427"/>
<path d="M 572.5,670.4 L 592.0,670.4 L 597.7,665.6 L 578.7,665.6 Z" fill="#5f7536"/>
<path d="M 591.5,697.7 L 597.7,693.4 L 597.7,665.6 L 591.5,669.9 Z" fill="#455427"/>
<path d="M 572.5,697.7 L 591.5,697.7 L 591.5,669.9 L 572.5,669.9 Z" fill="#89a54e"/>
<path d="M 572.5,669.9 L 591.5,669.9 L 597.7,665.6 L 578.7,665.6 Z" fill="#5f7536"/>
<path d="M 620.7,697.4 L 639.4,697.7 L 645.6,693.4 L 645.6,620.0 L 626.6,620.0 L 620.7,624.3 Z" fill="#455427"/>
<path d="M 620.4,624.8 L 639.9,624.8 L 645.6,620.0 L 626.6,620.0 Z" fill="#5f7536"/>
<path d="M 639.4,697.7 L 645.6,693.4 L 645.6,620.0 L 639.4,624.3 Z" fill="#455427"/>
<path d="M 620.4,697.7 L 639.4,697.7 L 639.4,624.3 L 620.4,624.3 Z" fill="#89a54e"/>
<path d="M 620.4,624.3 L 639.4,624.3 L 645.6,620.0 L 626.6,620.0 Z" fill="#5f7536"/>
<path d="M 668.6,697.4 L 687.3,697.7 L 693.5,693.4 L 693.5,659.4 L 674.5,659.4 L 668.6,663.7 Z" fill="#455427"/>
<path d="M 668.3,664.2 L 687.8,664.2 L 693.5,659.4 L 674.5,659.4 Z" fill="#5f7536"/>
<path d="M 687.3,697.7 L 693.5,693.4 L 693.5,659.4 L 687.3,663.7 Z" fill="#455427"/>
<path d="M 668.3,697.7 L 687.3,697.7 L 687.3,663.7 L 668.3,663.7 Z" fill="#89a54e"/>
<path d="M 668.3,663.7 L 687.3,663.7 L 693.5,659.4 L 674.5,659.4 Z" fill="#5f7536"/>
<path d="M 716.5,697.4 L 735.2,697.7 L 741.4,693.4 L 741.4,645.8 L 722.4,645.8 L 716.5,650.1 Z" fill="#455427"/>
<path d="M 716.2,650.6 L 735.7,650.6 L 741.4,645.8 L 722.4,645.8 Z" fill="#5f7536"/>
<path d="M 735.2,697.7 L 741.4,693.4 L 741.4,645.8 L 735.2,650.1 Z" fill="#455427"/>
<path d="M 716.2,697.7 L 735.2,697.7 L 735.2,650.1 L 716.2,650.1 Z" fill="#89a54e"/>
<path d="M 716.2,650.1 L 735.2,650.1 L 741.4,645.8 L 722.4,645.8 Z" fill="#5f7536"/>
<path d="M 764.4,697.4 L 783.1,697.7 L 789.3,693.4 L 789.3,661.8 L 770.3,661.8 L 764.4,666.1 Z" fill="#455427"/>
<path d="M 764.1,666.6 L 783.6,666.6 L 789.3,661.8 L 770.3,661.8 Z" fill="#5f7536"/>
<path d="M 783.1,697.7 L 789.3,693.4 L 789.3,661.8 L 783.1,666.1 Z" fill="#455427"/>
<path d="M 764.1,697.7 L 783.1,697.7 L 783.1,666.1 L 764.1,666.1 Z" fill="#89a54e"/>
<path d="M 764.1,666.1 L 783.1,666.1 L 789.3,661.8 L 770.3,661.8 Z" fill="#5f7536"/>
<path d="M 812.3,697.4 L 831.0,697.7 L 837.2,693.4 L 837.2,672.2 L 818.2,672.2 L 812.3,676.5 Z" fill="#455427"/>
<path d="M 812.0,677.0 L 831.5,677.0 L 837.2,672.2 L 818.2,672.2 Z" fill="#5f7536"/>
<path d="M 831.0,697.7 L 837.2,693.4 L 837.2,672.2 L 831.0,676.5 Z" fill="#455427"/>
<path d="M 812.0,697.7 L 831.0,697.7 L 831.0,676.5 L 812.0,676.5 Z" fill="#89a54e"/>
<path d="M 812.0,676.5 L 831.0,676.5 L 837.2,672.2 L 818.2,672.2 Z" fill="#5f7536"/>
<path d="M 860.2,697.4 L 878.9,697.7 L 885.1,693.4 L 885.1,659.4 L 866.1,659.4 L 860.2,663.7 Z" fill="#455427"/>
<path d="M 859.9,664.2 L 879.4,664.2 L 885.1,659.4 L 866.1,659.4 Z" fill="#5f7536"/>
<path d="M 878.9,697.7 L 885.1,693.4 L 885.1,659.4 L 878.9,663.7 Z" fill="#455427"/>
<path d="M 859.9,697.7 L 878.9,697.7 L 878.9,663.7 L 859.9,663.7 Z" fill="#89a54e"/>
<path d="M 859.9,663.7 L 878.9,663.7 L 885.1,659.4 L 866.1,659.4 Z" fill="#5f7536"/>
<path d="M 908.1,697.4 L 926.8,697.7 L 933.0,693.4 L 933.0,644.8 L 914.0,644.8 L 908.1,649.1 Z" fill="#455427"/>
<path d="M 907.8,649.6 L 927.3,649.6 L 933.0,644.8 L 914.0,644.8 Z" fill="#5f7536"/>
<path d="M 926.8,697.7 L 933.0,693.4 L 933.0,644.8 L 926.8,649.1 Z" fill="#455427"/>
<path d="M 907.8,697.7 L 926.8,697.7 L 926.8,649.1 L 907.8,649.1 Z" fill="#89a54e"/>
<path d="M 907.8,649.1 L 926.8,649.1 L 933.0,644.8 L 914.0,644.8 Z" fill="#5f7536"/>
<path d="M 956.0,697.4 L 974.7,697.7 L 980.9,693.4 L 980.9,626.7 L 961.9,626.7 L 956.0,631.0 Z" fill="#455427"/>
<path d="M 955.7,631.5 L 975.2,631.5 L 980.9,626.7 L 961.9,626.7 Z" fill="#5f7536"/>
<path d="M 974.7,697.7 L 980.9,693.4 L 980.9,626.7 L 974.7,631.0 Z" fill="#455427"/>
<path d="M 955.7,697.7 L 974.7,697.7 L 974.7,631.0 L 955.7,631.0 Z" fill="#89a54e"/>
<path d="M 955.7,631.0 L 974.7,631.0 L 980.9,626.7 L 961.9,626.7 Z" fill="#5f7536"/>
<path d="M 460.2,709.2 L 479.2,709.2 L 485.4,704.9 L 466.4,704.9 Z" fill="#722624"/>
<path d="M 508.1,709.2 L 527.1,709.2 L 533.3,704.9 L 514.3,704.9 Z" fill="#722624"/>
<path d="M 556.0,709.2 L 575.0,709.2 L 581.2,704.9 L 562.2,704.9 Z" fill="#722624"/>
<path d="M 603.9,709.2 L 622.9,709.2 L 629.1,704.9 L 610.1,704.9 Z" fill="#722624"/>
<path d="M 651.8,709.2 L 670.8,709.2 L 677.0,704.9 L 658.0,704.9 Z" fill="#722624"/>
<path d="M 699.7,709.2 L 718.7,709.2 L 724.9,704.9 L 705.9,704.9 Z" fill="#722624"/>
<path d="M 747.6,709.2 L 766.6,709.2 L 772.8,704.9 L 753.8,704.9 Z" fill="#722624"/>
<path d="M 795.5,709.2 L 814.5,709.2 L 820.7,704.9 L 801.7,704.9 Z" fill="#722624"/>
<path d="M 843.4,709.2 L 862.4,709.2 L 868.6,704.9 L 849.6,704.9 Z" fill="#722624"/>
<path d="M 891.3,709.2 L 910.3,709.2 L 916.5,704.9 L 897.5,704.9 Z" fill="#722624"/>
<path d="M 939.2,709.2 L 958.2,709.2 L 964.4,704.9 L 945.4,704.9 Z" fill="#722624"/>
<path d="M 444.1,720.4 L 462.8,720.7 L 469.0,716.4 L 469.0,681.9 L 450.0,681.9 L 444.1,686.2 Z" fill="#223a59"/>
<path d="M 443.8,686.7 L 463.3,686.7 L 469.0,681.9 L 450.0,681.9 Z" fill="#2f507a"/>
<path d="M 462.8,720.7 L 469.0,716.4 L 469.0,681.9 L 462.8,686.2 Z" fill="#223a59"/>
<path d="M 443.8,720.7 L 462.8,720.7 L 462.8,686.2 L 443.8,686.2 Z" fill="#4573a7"/>
<path d="M 443.8,686.2 L 462.8,686.2 L 469.0,681.9 L 450.0,681.9 Z" fill="#2f507a"/>
<path d="M 492.0,720.4 L 510.7,720.7 L 516.9,716.4 L 516.9,684.8 L 497.9,684.8 L 492.0,689.1 Z" fill="#223a59"/>
<path d="M 491.7,689.6 L 511.2,689.6 L 516.9,684.8 L 497.9,684.8 Z" fill="#2f507a"/>
<path d="M 510.7,720.7 L 516.9,716.4 L 516.9,684.8 L 510.7,689.1 Z" fill="#223a59"/>
<path d="M 491.7,720.7 L 510.7,720.7 L 510.7,689.1 L 491.7,689.1 Z" fill="#4573a7"/>
<path d="M 491.7,689.1 L 510.7,689.1 L 516.9,684.8 L 497.9,684.8 Z" fill="#2f507a"/>
<path d="M 539.9,720.4 L 558.6,720.7 L 564.8,716.4 L 564.8,695.4 L 545.8,695.4 L 539.9,699.7 Z" fill="#223a59"/>
<path d="M 539.6,700.2 L 559.1,700.2 L 564.8,695.4 L 545.8,695.4 Z" fill="#2f507a"/>
<path d="M 558.6,720.7 L 564.8,716.4 L 564.8,695.4 L 558.6,699.7 Z" fill="#223a59"/>
<path d="M 539.6,720.7 L 558.6,720.7 L 558.6,699.7 L 539.6,699.7 Z" fill="#4573a7"/>
<path d="M 539.6,699.7 L 558.6,699.7 L 564.8,695.4 L 545.8,695.4 Z" fill="#2f507a"/>
<path d="M 587.8,720.4 L 606.5,720.7 L 612.7,716.4 L 612.7,665.8 L 593.7,665.8 L 587.8,670.1 Z" fill="#223a59"/>
<path d="M 587.5,670.6 L 607.0,670.6 L 612.7,665.8 L 593.7,665.8 Z" fill="#2f507a"/>
<path d="M 606.5,720.7 L 612.7,716.4 L 612.7,665.8 L 606.5,670.1 Z" fill="#223a59"/>
<path d="M 587.5,720.7 L 606.5,720.7 L 606.5,670.1 L 587.5,670.1 Z" fill="#4573a7"/>
<path d="M 587.5,670.1 L 606.5,670.1 L 612.7,665.8 L 593.7,665.8 Z" fill="#2f507a"/>
<path d="M 635.7,720.4 L 654.4,720.7 L 660.6,716.4 L 660.6,690.4 L 641.6,690.4 L 635.7,694.7 Z" fill="#223a59"/>
<path d="M 635.4,695.2 L 654.9,695.2 L 660.6,690.4 L 641.6,690.4 Z" fill="#2f507a"/>
<path d="M 654.4,720.7 L 660.6,716.4 L 660.6,690.4 L 654.4,694.7 Z" fill="#223a59"/>
<path d="M 635.4,720.7 L 654.4,720.7 L 654.4,694.7 L 635.4,694.7 Z" fill="#4573a7"/>
<path d="M 635.4,694.7 L 654.4,694.7 L 660.6,690.4 L 641.6,690.4 Z" fill="#2f507a"/>
<path d="M 683.6,720.4 L 702.3,720.7 L 708.5,716.4 L 708.5,684.6 L 689.5,684.6 L 683.6,688.9 Z" fill="#223a59"/>
<path d="M 683.3,689.4 L 702.8,689.4 L 708.5,684.6 L 689.5,684.6 Z" fill="#2f507a"/>
<path d="M 702.3,720.7 L 708.5,716.4 L 708.5,684.6 L 702.3,688.9 Z" fill="#223a59"/>
<path d="M 683.3,720.7 L 702.3,720.7 L 702.3,688.9 L 683.3,688.9 Z" fill="#4573a7"/>
<path d="M 683.3,688.9 L 702.3,688.9 L 708.5,684.6 L 689.5,684.6 Z" fill="#2f507a"/>
<path d="M 731.5,720.4 L 750.2,720.7 L 756.4,716.4 L 756.4,695.8 L 737.4,695.8 L 731.5,700.1 Z" fill="#223a59"/>
<path d="M 731.2,700.6 L 750.7,700.6 L 756.4,695.8 L 737.4,695.8 Z" fill="#2f507a"/>
<path d="M 750.2,720.7 L 756.4,716.4 L 756.4,695.8 L 750.2,700.1 Z" fill="#223a59"/>
<path d="M 731.2,720.7 L 750.2,720.7 L 750.2,700.1 L 731.2,700.1 Z" fill="#4573a7"/>
<path d="M 731.2,700.1 L 750.2,700.1 L 756.4,695.8 L 737.4,695.8 Z" fill="#2f507a"/>
<path d="M 779.1,720.7 L 798.1,720.7 L 804.3,716.4 L 785.3,716.4 Z" fill="#2f507a"/>
<path d="M 827.0,720.7 L 846.0,720.7 L 852.2,716.4 L 833.2,716.4 Z" fill="#2f507a"/>
<path d="M 875.2,720.4 L 893.9,720.7 L 900.1,716.4 L 900.1,691.7 L 881.1,691.7 L 875.2,696.0 Z" fill="#223a59"/>
<path d="M 874.9,696.5 L 894.4,696.5 L 900.1,691.7 L 881.1,691.7 Z" fill="#2f507a"/>
<path d="M 893.9,720.7 L 900.1,716.4 L 900.1,691.7 L 893.9,696.0 Z" fill="#223a59"/>
<path d="M 874.9,720.7 L 893.9,720.7 L 893.9,696.0 L 874.9,696.0 Z" fill="#4573a7"/>
<path d="M 874.9,696.0 L 893.9,696.0 L 900.1,691.7 L 881.1,691.7 Z" fill="#2f507a"/>
<path d="M 922.8,720.7 L 941.8,720.7 L 948.0,716.4 L 929.0,716.4 Z" fill="#2f507a"/></g>
<g><text x="417.8" y="729.9" text-anchor="end" font-size="14.1" fill="#000" stroke="#000" stroke-width="0.22">0</text>
<text x="417.8" y="688.7" text-anchor="end" font-size="14.1" fill="#000" stroke="#000" stroke-width="0.22">2000</text>
<text x="417.8" y="647.4" text-anchor="end" font-size="14.1" fill="#000" stroke="#000" stroke-width="0.22">4000</text>
<text x="417.8" y="606.2" text-anchor="end" font-size="14.1" fill="#000" stroke="#000" stroke-width="0.22">6000</text>
<text x="417.8" y="565.0" text-anchor="end" font-size="14.1" fill="#000" stroke="#000" stroke-width="0.22">8000</text>
<text x="417.8" y="523.8" text-anchor="end" font-size="14.1" fill="#000" stroke="#000" stroke-width="0.22">10000</text>
<text x="417.8" y="482.5" text-anchor="end" font-size="14.1" fill="#000" stroke="#000" stroke-width="0.22">12000</text>
<text x="417.8" y="441.3" text-anchor="end" font-size="14.1" fill="#000" stroke="#000" stroke-width="0.22">14000</text>
<text x="448.1" y="742.0" text-anchor="middle" font-size="14.1" fill="#000" stroke="#000" stroke-width="0.22">1</text>
<text x="496.0" y="742.0" text-anchor="middle" font-size="14.1" fill="#000" stroke="#000" stroke-width="0.22">2</text>
<text x="544.0" y="742.0" text-anchor="middle" font-size="14.1" fill="#000" stroke="#000" stroke-width="0.22">3</text>
<text x="591.9" y="742.0" text-anchor="middle" font-size="14.1" fill="#000" stroke="#000" stroke-width="0.22">4</text>
<text x="639.8" y="742.0" text-anchor="middle" font-size="14.1" fill="#000" stroke="#000" stroke-width="0.22">5</text>
<text x="687.6" y="742.0" text-anchor="middle" font-size="14.1" fill="#000" stroke="#000" stroke-width="0.22">6</text>
<text x="735.5" y="742.0" text-anchor="middle" font-size="14.1" fill="#000" stroke="#000" stroke-width="0.22">7</text>
<text x="783.5" y="742.0" text-anchor="middle" font-size="14.1" fill="#000" stroke="#000" stroke-width="0.22">8</text>
<text x="831.3" y="742.0" text-anchor="middle" font-size="14.1" fill="#000" stroke="#000" stroke-width="0.22">9</text>
<text x="879.2" y="742.0" text-anchor="middle" font-size="14.1" fill="#000" stroke="#000" stroke-width="0.22">10</text>
<text x="927.1" y="742.0" text-anchor="middle" font-size="14.1" fill="#000" stroke="#000" stroke-width="0.22">11</text>
<text x="954.9" y="737.9" font-size="14.1" fill="#000" stroke="#000" stroke-width="0.22">Series1</text>
<text x="971.5" y="726.4" font-size="14.1" fill="#000" stroke="#000" stroke-width="0.22">Series2</text>
<text x="988.1" y="715.0" font-size="14.1" fill="#000" stroke="#000" stroke-width="0.22">Series3</text>
<text x="1004.7" y="703.5" font-size="14.1" fill="#000" stroke="#000" stroke-width="0.22">Series4</text>
<text x="1021.3" y="692.1" font-size="14.1" fill="#000" stroke="#000" stroke-width="0.22">Series5</text>
<text x="1037.9" y="680.6" font-size="14.1" fill="#000" stroke="#000" stroke-width="0.22">Series6</text>
<text x="1054.5" y="669.1" font-size="14.1" fill="#000" stroke="#000" stroke-width="0.22">Series7</text>
<text x="1071.1" y="657.7" font-size="14.1" fill="#000" stroke="#000" stroke-width="0.22">Series8</text>
<rect x="1116.1" y="482.3" width="7" height="7" fill="#4573a7"/>
<text x="1127.8" y="489.8" font-size="14.1" fill="#000" stroke="#000" stroke-width="0.22">Series1</text>
<rect x="1116.1" y="502.6" width="7" height="7" fill="#aa4643"/>
<text x="1127.8" y="510.1" font-size="14.1" fill="#000" stroke="#000" stroke-width="0.22">Series2</text>
<rect x="1116.1" y="522.8" width="7" height="7" fill="#89a54e"/>
<text x="1127.8" y="530.3" font-size="14.1" fill="#000" stroke="#000" stroke-width="0.22">Series3</text>
<rect x="1116.1" y="543.0" width="7" height="7" fill="#71588f"/>
<text x="1127.8" y="550.5" font-size="14.1" fill="#000" stroke="#000" stroke-width="0.22">Series4</text>
<rect x="1116.1" y="563.3" width="7" height="7" fill="#4198af"/>
<text x="1127.8" y="570.8" font-size="14.1" fill="#000" stroke="#000" stroke-width="0.22">Series5</text>
<rect x="1116.1" y="583.5" width="7" height="7" fill="#db843d"/>
<text x="1127.8" y="591.0" font-size="14.1" fill="#000" stroke="#000" stroke-width="0.22">Series6</text>
<rect x="1116.1" y="603.8" width="7" height="7" fill="#93a9cf"/>
<text x="1127.8" y="611.3" font-size="14.1" fill="#000" stroke="#000" stroke-width="0.22">Series7</text>
<rect x="1116.1" y="624.0" width="7" height="7" fill="#d19392"/>
<text x="1127.8" y="631.5" font-size="14.1" fill="#000" stroke="#000" stroke-width="0.22">Series8</text></g>
</svg>
</body>
</html>
